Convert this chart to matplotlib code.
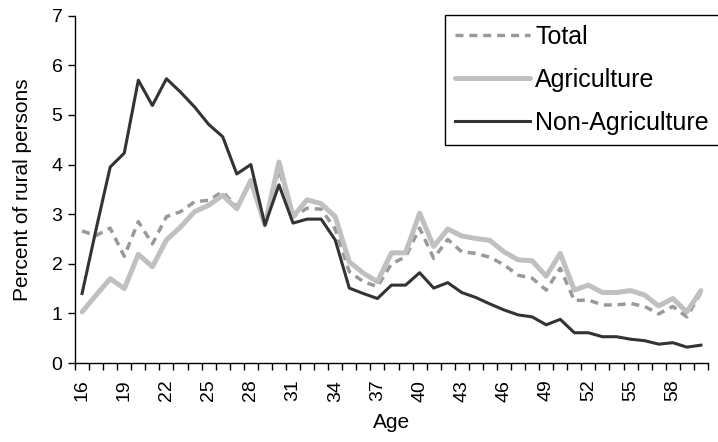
import matplotlib
matplotlib.use("Agg")
import matplotlib.pyplot as plt
import numpy as np

plt.rcParams["font.family"] = ["Liberation Sans", "DejaVu Sans"]

ages = list(range(16, 61))

total = [2.66, 2.57, 2.72, 2.15, 2.85, 2.40, 2.95, 3.05, 3.25, 3.28, 3.45, 3.15, 3.65, 2.78, 3.90,
         2.95, 3.12, 3.10, 2.70, 1.84, 1.64, 1.54, 2.00, 2.14, 2.72,
         2.11, 2.49, 2.24, 2.21, 2.13, 1.98, 1.77, 1.71, 1.47, 1.91,
         1.26, 1.27, 1.17, 1.17, 1.20, 1.14, 0.99, 1.14, 0.93, 1.42]

agriculture = [1.03, 1.37, 1.70, 1.50, 2.19, 1.94, 2.48, 2.74, 3.05, 3.18, 3.38, 3.11, 3.68, 2.78, 4.05,
               2.95, 3.29, 3.21, 2.95, 2.04, 1.81, 1.64, 2.22, 2.22, 3.02,
               2.35, 2.70, 2.56, 2.51, 2.47, 2.24, 2.08, 2.06, 1.75, 2.21,
               1.47, 1.57, 1.42, 1.42, 1.46, 1.37, 1.15, 1.30, 1.03, 1.46]

non_agriculture = [1.40, 2.70, 3.95, 4.23, 5.70, 5.19, 5.73, 5.46, 5.16, 4.81, 4.56, 3.81, 4.00, 2.78, 3.59,
                   2.82, 2.90, 2.90, 2.48, 1.51, 1.40, 1.30, 1.57, 1.57, 1.82,
                   1.51, 1.62, 1.42, 1.32, 1.19, 1.07, 0.97, 0.93, 0.77, 0.88,
                   0.61, 0.61, 0.53, 0.53, 0.48, 0.45, 0.38, 0.41, 0.32, 0.36]


def main():
    fig = plt.figure(figsize=(7.18, 4.42), dpi=100)
    ax = fig.add_axes([0.1045, 0.1787, 0.8815, 0.7858])

    x = np.arange(len(ages))
    ax.plot(x, total, color="#999999", lw=2.5, dashes=[2.3, 1.7],
            dash_capstyle="butt", label="Total")
    ax.plot(x, agriculture, color="#c0c0c0", lw=3.6, solid_joinstyle="round",
            solid_capstyle="round", label="Agriculture")
    ax.plot(x, non_agriculture, color="#333333", lw=2.2, solid_joinstyle="round",
            label="Non-Agriculture")

    ax.set_xlim(-0.5, len(ages) - 0.5)
    ax.set_ylim(0, 7)
    ax.set_yticks(range(0, 8))

    # category axis: tick marks between categories, labels every third age
    ax.set_xticks(np.arange(-0.5, len(ages), 1), minor=True)
    ax.set_xticks(x[::3])
    ax.set_xticklabels([str(a) for a in ages[::3]], rotation=90)
    ax.tick_params(axis="x", which="major", length=0, pad=12, labelsize=14)
    ax.tick_params(axis="x", which="minor", length=5, width=1, direction="out")
    ax.tick_params(axis="y", length=5, width=1, direction="out", labelsize=14, pad=4)

    for side in ("top", "right"):
        ax.spines[side].set_visible(False)
    for side in ("left", "bottom"):
        ax.spines[side].set_linewidth(1)
        ax.spines[side].set_color("#000000")

    ax.set_xlabel("Age", fontsize=15, labelpad=8)
    ax.set_ylabel("Percent of rural persons", fontsize=15, labelpad=14)

    leg = ax.legend(loc="upper left", bbox_to_anchor=(445 / 718, 1 - 15 / 442),
                    bbox_transform=fig.transFigure, fontsize=18, frameon=True,
                    fancybox=False, framealpha=1, edgecolor="#000000",
                    handlelength=3.0, handletextpad=0.2, labelspacing=0.76,
                    borderpad=0.4, borderaxespad=0)
    leg.get_frame().set_linewidth(1)

    fig.savefig("out.png", dpi=100)
    plt.close(fig)


if __name__ == "__main__":
    main()
